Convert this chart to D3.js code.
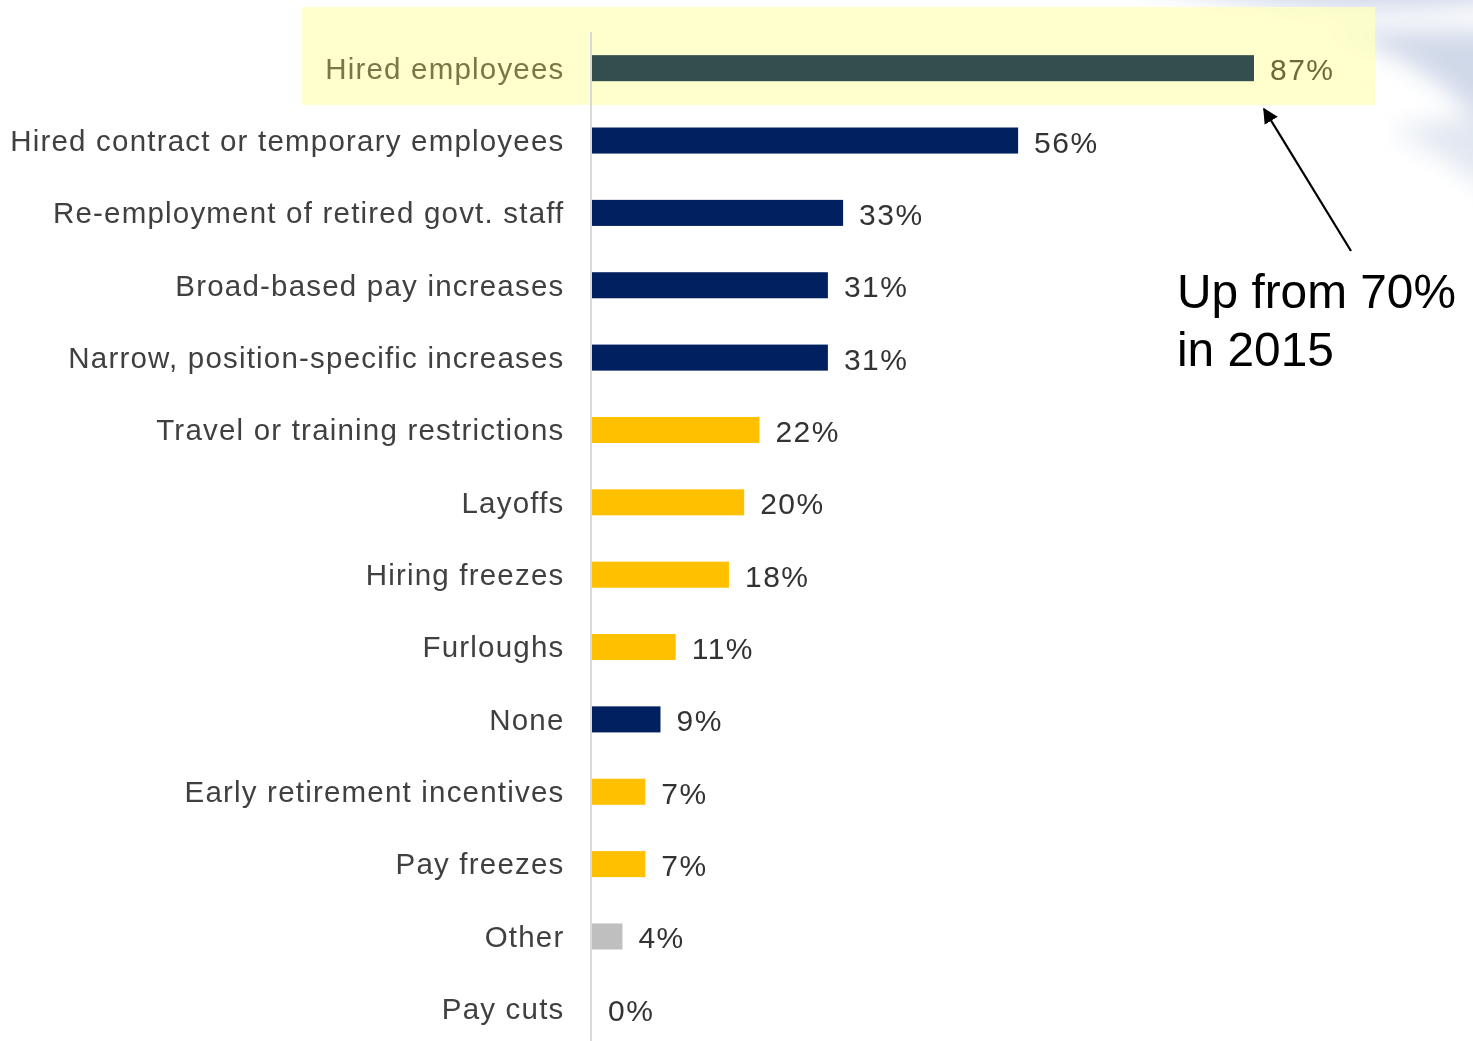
<!DOCTYPE html>
<html><head><meta charset="utf-8">
<script src="https://cdn.jsdelivr.net/npm/d3@7/dist/d3.min.js"></script>
<style>html,body{margin:0;padding:0;background:#fff;}svg{display:block;}</style>
</head><body>
<script>
const categories = ["Hired employees","Hired contract or temporary employees","Re-employment of retired govt. staff","Broad-based pay increases","Narrow, position-specific increases","Travel or training restrictions","Layoffs","Hiring freezes","Furloughs","None","Early retirement incentives","Pay freezes","Other","Pay cuts"];
const values = [87,56,33,31,31,22,20,18,11,9,7,7,4,0];
const groups = ["highlight","growth","growth","growth","growth","cut","cut","cut","cut","growth","cut","cut","other","cut"];
const annotationLines = ["Up from 70%","in 2015"];

const W = 1473, H = 1041;
const colors = {highlight:"#334e4f", growth:"#00205f", cut:"#ffc000", other:"#bfbfbf"};

const svg = d3.select("body").append("svg").attr("width",W).attr("height",H);
const defs = svg.append("defs");
const blur = defs.append("filter").attr("id","bl").attr("x","-50%").attr("y","-50%").attr("width","200%").attr("height","200%");
blur.append("feGaussianBlur").attr("stdDeviation",12);

// decorative background swoosh (top-right)
const bg = svg.append("g").attr("filter","url(#bl)");
bg.append("path").attr("d","M1100,-30 Q1300,25 1500,0 L1500,-40 L1100,-40 Z").attr("fill","#c3cee4").attr("opacity",0.85);
bg.append("path").attr("d","M1320,30 Q1420,50 1500,140 L1500,30 Z").attr("fill","#c8d2e5").attr("opacity",0.85);
bg.append("path").attr("d","M1390,130 Q1440,150 1500,200 L1500,110 Z").attr("fill","#dbe2ee").attr("opacity",0.8);

const x = d3.scaleLinear().domain([0,87]).range([592,1254]);
const y = d3.scaleBand().domain(categories).range([32,1045]).paddingInner(0.64).paddingOuter(0.32);

// highlight box
svg.append("rect").attr("x",302).attr("y",7).attr("width",1073).attr("height",98)
  .attr("fill","#ffffc0").attr("opacity",0.8);

// axis line
svg.append("line").attr("x1",591).attr("x2",591).attr("y1",32).attr("y2",H)
  .attr("stroke","#d9d9d9").attr("stroke-width",2);

const rows = svg.append("g").selectAll("g").data(categories).join("g");
rows.append("rect")
  .attr("x",x(0))
  .attr("y",d=>y(d))
  .attr("width",(d,i)=>x(values[i])-x(0))
  .attr("height",y.bandwidth())
  .attr("fill",(d,i)=>colors[groups[i]]);

rows.append("text")
  .attr("x",564.5)
  .attr("y",d=>y(d)+y.bandwidth()/2)
  .attr("dy","0.35em")
  .attr("text-anchor","end")
  .attr("font-family","Liberation Sans, Arial, sans-serif")
  .attr("font-size",29.5)
  .attr("letter-spacing",1.2)
  .attr("fill",(d,i)=>groups[i]==="highlight"?"#77774a":"#404040")
  .text(d=>d);

rows.append("text")
  .attr("x",(d,i)=>x(values[i])+16)
  .attr("y",d=>y(d)+y.bandwidth()/2)
  .attr("dy","0.4em")
  .attr("font-family","Liberation Sans, Arial, sans-serif")
  .attr("font-size",30)
  .attr("letter-spacing",1.5)
  .attr("fill",(d,i)=>groups[i]==="highlight"?"#6b6b3a":"#333333")
  .text((d,i)=>values[i]+"%");

// arrow
defs.append("marker").attr("id","ah").attr("viewBox","0 0 10 10").attr("refX",9).attr("refY",5)
  .attr("markerWidth",7).attr("markerHeight",7).attr("orient","auto-start-reverse")
  .append("path").attr("d","M0,0 L10,5 L0,10 Z").attr("fill","#000");
svg.append("line").attr("x1",1351).attr("y1",251).attr("x2",1264).attr("y2",109)
  .attr("stroke","#000").attr("stroke-width",2.2).attr("marker-end","url(#ah)");

svg.append("g").selectAll("text").data(annotationLines).join("text")
  .attr("x",1177).attr("y",(d,i)=>308+i*58)
  .attr("font-family","Liberation Sans, Arial, sans-serif")
  .attr("font-size",47.8).attr("fill","#000").text(d=>d);
</script>
</body></html>
